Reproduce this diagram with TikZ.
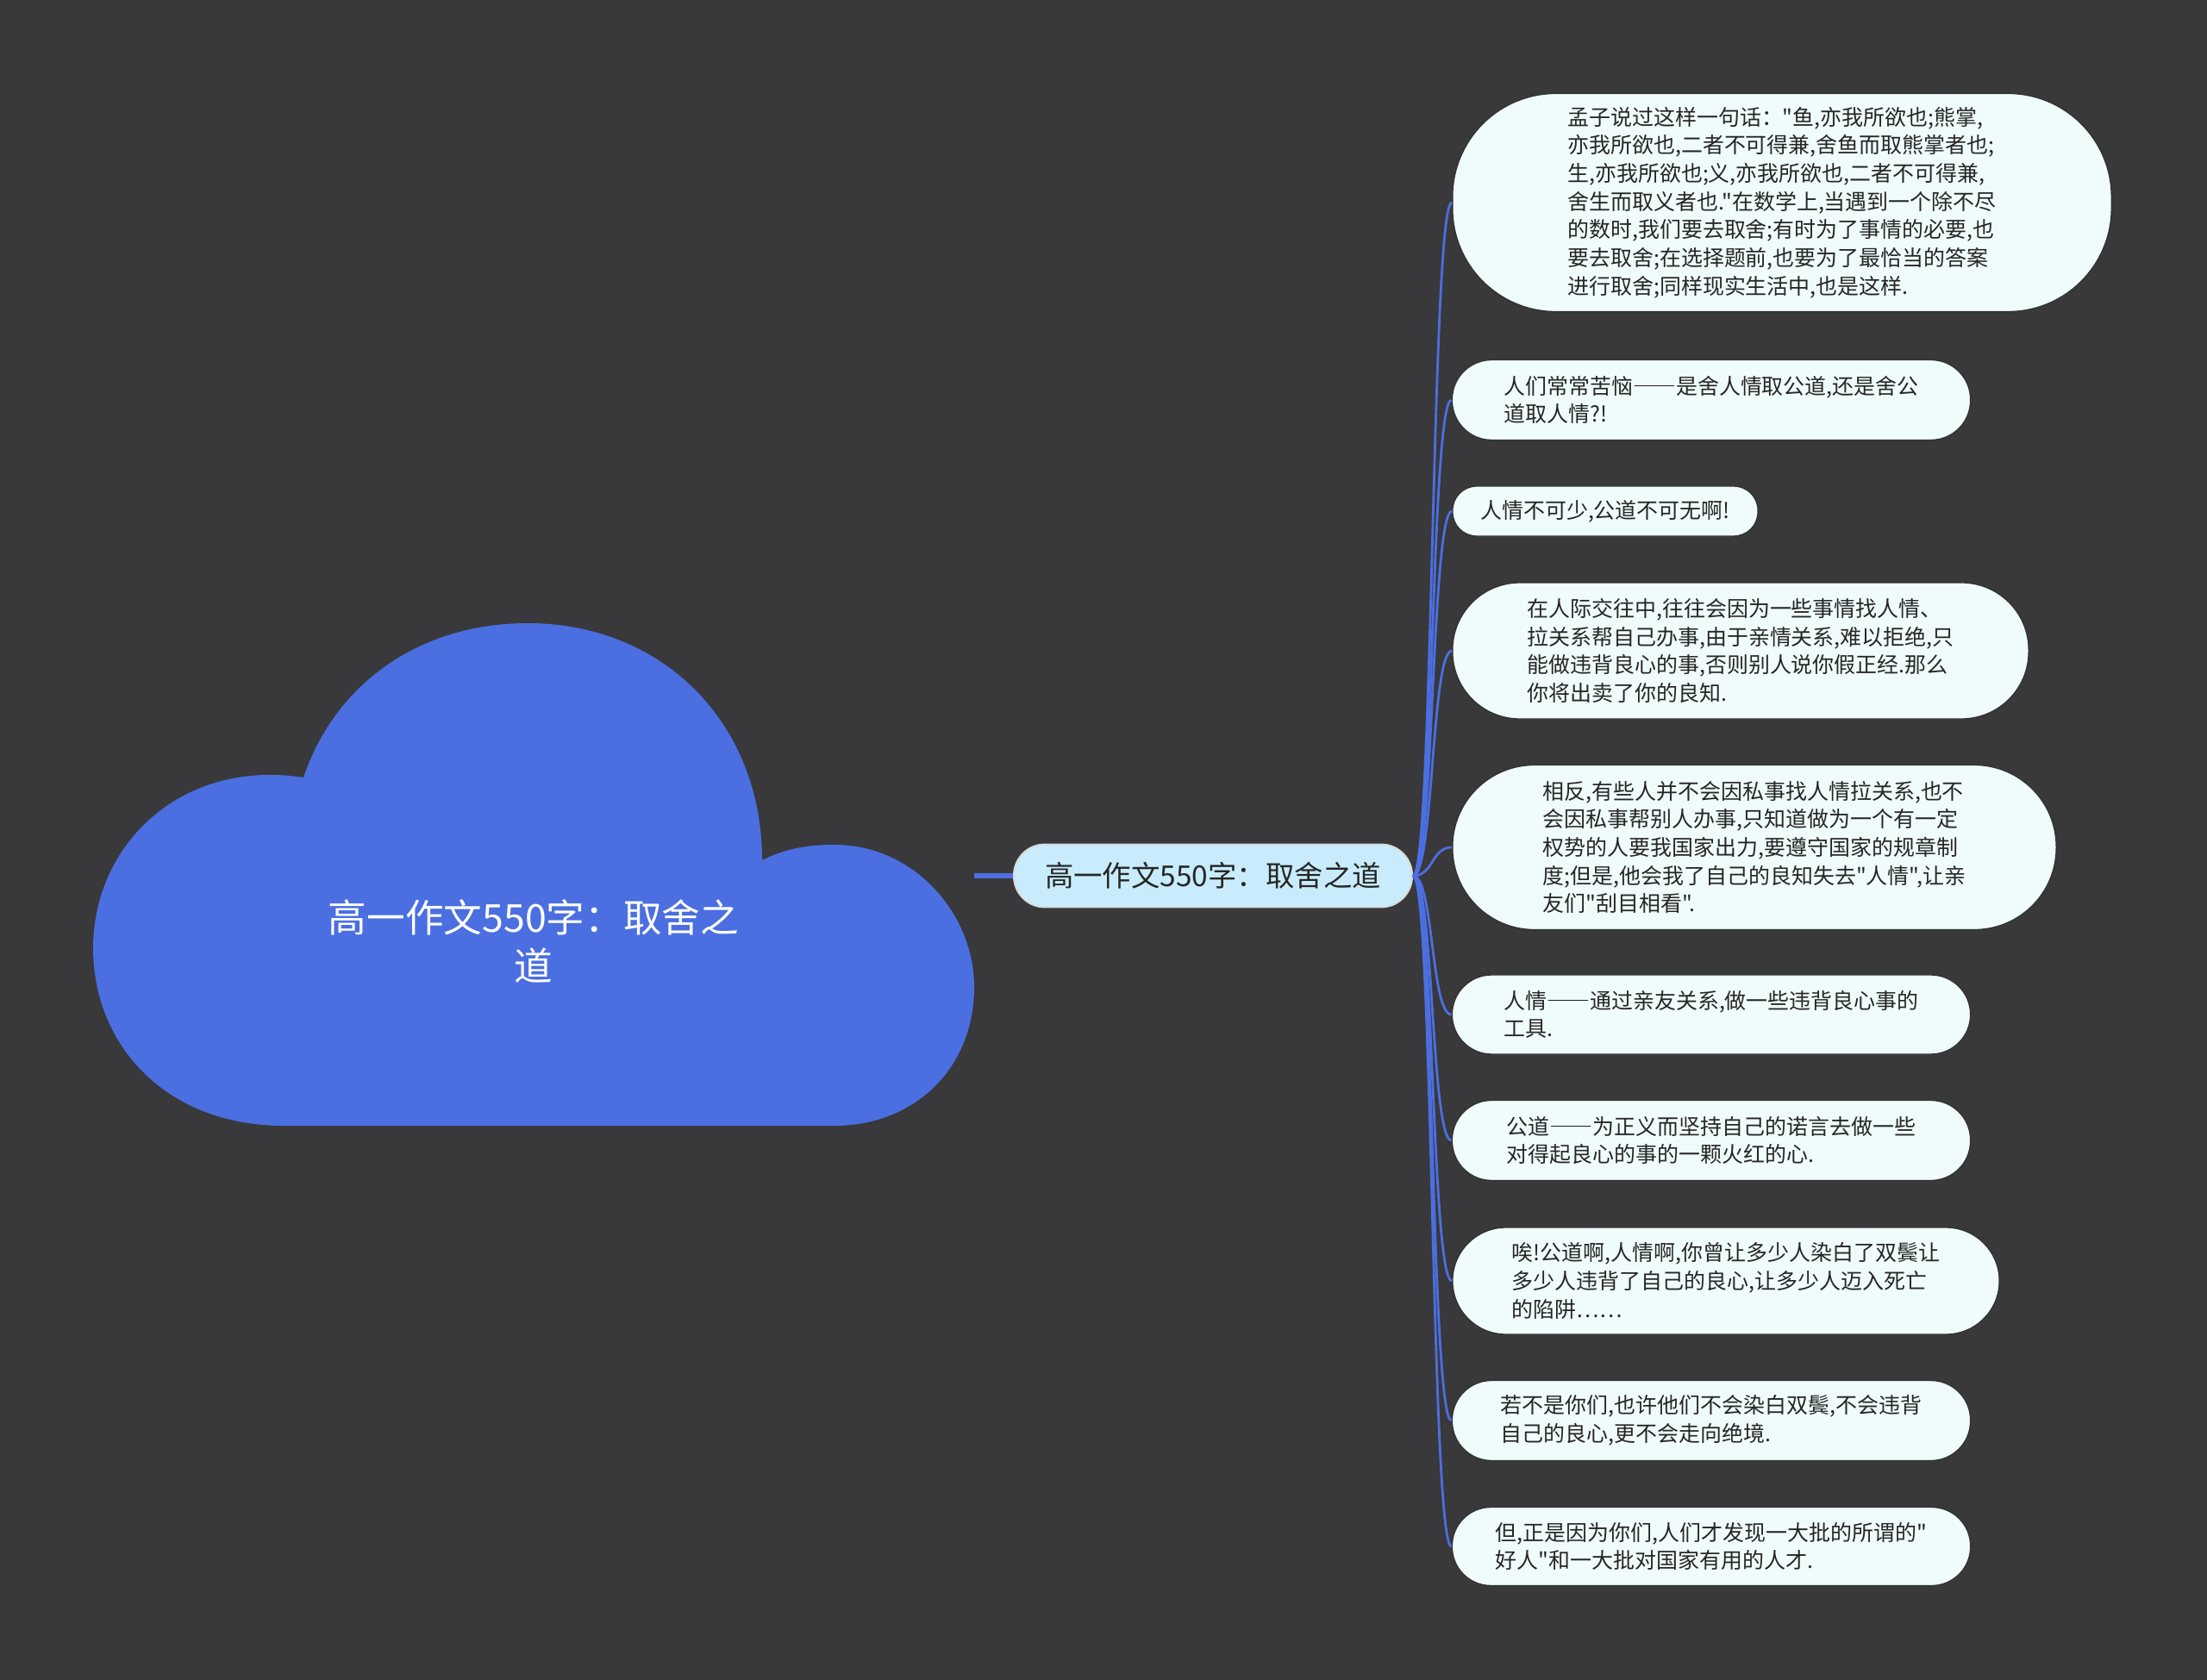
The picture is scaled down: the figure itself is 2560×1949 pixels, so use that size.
\documentclass[tikz,border=0pt]{standalone}
\usepackage{fontspec}
\setmainfont{Noto Sans CJK SC}[Ligatures=TeXOff]
\definecolor{bgdark}{RGB}{57,56,58}
\definecolor{cloudblue}{RGB}{75,111,225}
\definecolor{hubfill}{RGB}{200,236,251}
\definecolor{leaffill}{RGB}{240,252,252}
\definecolor{leaftext}{RGB}{38,38,38}
\usetikzlibrary{shapes,arrows,positioning,calc}
\newcommand\fwdash{{\addfontfeatures{CharacterWidth=Full}——}}

\tikzset{
  leaf/.style={draw=black!80, line width=0.4pt, fill=leaffill, text=leaftext,
    align=left, inner sep=0pt, font=\fontsize{7.1pt}{9.3pt}\selectfont},
  twig/.style={draw=cloudblue, line width=0.8pt},
  trunk/.style={draw=cloudblue, line width=1.7pt},
}

\begin{document}
\begin{tikzpicture}[x=0.01cm, y=-0.01cm]
    \fill[bgdark] (0,0) rectangle (2560,1949);
    \useasboundingbox (0,0) rectangle (2560,1949);

    % cloud
    \fill[cloudblue] (330,1306) .. controls (190,1306) and (108,1210) .. (108,1100)
        .. controls (108,980) and (210,880) .. (352,902)
        .. controls (390,790) and (490,723) .. (612,723)
        .. controls (770,723) and (884,840) .. (884,998)
        .. controls (910,985) and (935,980) .. (968,980)
        .. controls (1060,980) and (1130,1060) .. (1130,1145)
        .. controls (1130,1240) and (1060,1306) .. (968,1306) -- cycle;
    \node[text=white, align=center, font=\fontsize{12.7pt}{15.9pt}\selectfont] (title) at (619,1092) {高一作文550字：取舍之\\道};
    \coordinate (cloudR) at (1130,1016);

    \node[draw=white!85!black, line width=0.5pt, fill=hubfill, text=leaftext, rounded corners=0.36cm,
        minimum width=4.62cm, minimum height=0.73cm, inner sep=0pt,
        font=\fontsize{9.5pt}{11pt}\selectfont] (hub) at (1407,1016) {高一作文550字：取舍之道};
    \draw[trunk] (cloudR) -- (hub.west);

    % leaves
    \node[leaf, minimum width=7.64cm, minimum height=2.53cm, rounded corners=1.2cm] (n1) at (2067,235) {孟子说过这样一句话："鱼,亦我所欲也;熊掌,\\
亦我所欲也,二者不可得兼,舍鱼而取熊掌者也;\\
生,亦我所欲也;义,亦我所欲也,二者不可得兼,\\
舍生而取义者也."在数学上,当遇到一个除不尽\\
的数时,我们要去取舍;有时为了事情的必要,也\\
要去取舍;在选择题前,也要为了最恰当的答案\\
进行取舍;同样现实生活中,也是这样.};
    \node[leaf, minimum width=6.01cm, minimum height=0.93cm, rounded corners=0.46cm] (n2) at (1985,464) {人们常常苦恼\fwdash 是舍人情取公道,还是舍公\\
道取人情?!};
    \node[leaf, minimum width=3.54cm, minimum height=0.58cm, rounded corners=0.28cm] (n3) at (1862,593) {人情不可少,公道不可无啊!};
    \node[leaf, minimum width=6.68cm, minimum height=1.58cm, rounded corners=0.78cm] (n4) at (2019,755) {在人际交往中,往往会因为一些事情找人情、\\
拉关系帮自己办事,由于亲情关系,难以拒绝,只\\
能做违背良心的事,否则别人说你假正经.那么\\
你将出卖了你的良知.};
    \node[leaf, minimum width=7.00cm, minimum height=1.91cm, rounded corners=0.95cm] (n5) at (2035,983) {相反,有些人并不会因私事找人情拉关系,也不\\
会因私事帮别人办事,只知道做为一个有一定\\
权势的人要我国家出力,要遵守国家的规章制\\
度;但是,他会我了自己的良知失去"人情",让亲\\
友们"刮目相看".};
    \node[leaf, minimum width=6.01cm, minimum height=0.92cm, rounded corners=0.46cm] (n6) at (1985,1177) {人情\fwdash 通过亲友关系,做一些违背良心事的\\
工具.};
    \node[leaf, minimum width=6.01cm, minimum height=0.93cm, rounded corners=0.46cm] (n7) at (1985,1323) {公道\fwdash 为正义而坚持自己的诺言去做一些\\
对得起良心的事的一颗火红的心.};
    \node[leaf, minimum width=6.34cm, minimum height=1.24cm, rounded corners=0.62cm] (n8) at (2002,1486) {唉!公道啊,人情啊,你曾让多少人染白了双鬓让\\
多少人违背了自己的良心,让多少人迈入死亡\\
的陷阱……};
    \node[leaf, minimum width=6.01cm, minimum height=0.93cm, rounded corners=0.46cm] (n9) at (1985,1648) {若不是你们,也许他们不会染白双鬓,不会违背\\
自己的良心,更不会走向绝境.};
    \node[leaf, minimum width=6.01cm, minimum height=0.91cm, rounded corners=0.45cm] (n10) at (1985,1794) {但,正是因为你们,人们才发现一大批的所谓的"\\
好人"和一大批对国家有用的人才.};

    \foreach \n in {n1,n2,n3,n4,n5,n6,n7,n8,n9,n10}
        \draw[twig] (hub.east) .. controls +(24,0) and +(-24,0) .. (\n.west);
\end{tikzpicture}
\end{document}
